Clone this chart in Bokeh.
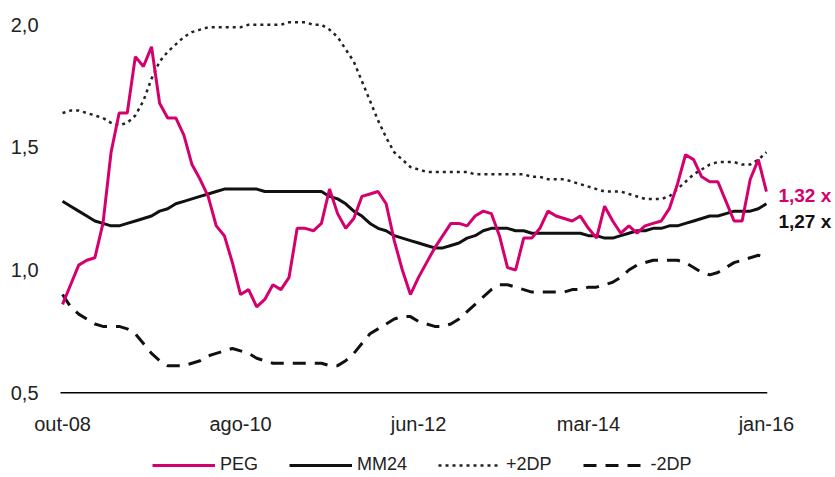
from bokeh.plotting import figure
from bokeh.models import ColumnDataSource, Range1d, Legend, LegendItem, Label
from bokeh.core.properties import value
from bokeh.embed import file_html
from bokeh.resources import INLINE

# ---------------- data (monthly, out-08 .. jan-16) ----------------
PEG = [0.86, 0.94, 1.02, 1.04, 1.05, 1.19, 1.48, 1.64, 1.64, 1.87,
       1.83, 1.91, 1.68, 1.62, 1.62, 1.55, 1.43, 1.37, 1.30, 1.18,
       1.14, 1.03, 0.90, 0.92, 0.85, 0.88, 0.94, 0.92, 0.97, 1.17,
       1.17, 1.16, 1.19, 1.33, 1.23, 1.17, 1.21, 1.30, 1.31, 1.32,
       1.27, 1.12, 1.00, 0.90, 0.97, 1.03, 1.09, 1.14, 1.19, 1.19,
       1.18, 1.22, 1.24, 1.23, 1.14, 1.01, 1.00, 1.13, 1.13, 1.17,
       1.24, 1.22, 1.21, 1.20, 1.22, 1.17, 1.13, 1.26, 1.20, 1.15,
       1.18, 1.15, 1.18, 1.19, 1.20, 1.25, 1.35, 1.47, 1.45, 1.38,
       1.36, 1.36, 1.28, 1.20, 1.20, 1.37, 1.45, 1.32]

MM24 = [1.28, 1.26, 1.24, 1.22, 1.20, 1.19, 1.18, 1.18, 1.19, 1.20,
        1.21, 1.22, 1.24, 1.25, 1.27, 1.28, 1.29, 1.30, 1.31, 1.32,
        1.33, 1.33, 1.33, 1.33, 1.33, 1.32, 1.32, 1.32, 1.32, 1.32,
        1.32, 1.32, 1.32, 1.30, 1.29, 1.27, 1.24, 1.22, 1.19, 1.17,
        1.16, 1.14, 1.13, 1.12, 1.11, 1.10, 1.09, 1.09, 1.10, 1.11,
        1.13, 1.14, 1.16, 1.17, 1.17, 1.17, 1.16, 1.16, 1.15, 1.15,
        1.15, 1.15, 1.15, 1.15, 1.15, 1.14, 1.14, 1.13, 1.13, 1.14,
        1.15, 1.16, 1.16, 1.17, 1.17, 1.18, 1.18, 1.19, 1.20, 1.21,
        1.22, 1.22, 1.23, 1.24, 1.24, 1.24, 1.25, 1.27]

UP2DP = [1.64, 1.65, 1.65, 1.64, 1.63, 1.62, 1.60, 1.59, 1.60, 1.63,
         1.69, 1.78, 1.85, 1.89, 1.92, 1.95, 1.97, 1.98, 1.99, 1.99,
         1.99, 1.99, 1.99, 2.00, 2.00, 2.00, 2.00, 2.00, 2.01, 2.01,
         2.01, 2.00, 2.00, 1.98, 1.95, 1.90, 1.85, 1.77, 1.69, 1.61,
         1.54, 1.48, 1.45, 1.42, 1.41, 1.40, 1.40, 1.40, 1.40, 1.40,
         1.40, 1.39, 1.39, 1.39, 1.39, 1.39, 1.39, 1.39, 1.38, 1.38,
         1.37, 1.37, 1.37, 1.36, 1.35, 1.34, 1.33, 1.32, 1.32, 1.32,
         1.31, 1.30, 1.29, 1.29, 1.29, 1.30, 1.33, 1.36, 1.39, 1.41,
         1.43, 1.44, 1.44, 1.44, 1.43, 1.43, 1.45, 1.48]

DN2DP = [0.90, 0.85, 0.82, 0.80, 0.78, 0.77, 0.77, 0.77, 0.76, 0.74,
         0.70, 0.66, 0.63, 0.61, 0.61, 0.61, 0.62, 0.63, 0.65, 0.66,
         0.67, 0.68, 0.67, 0.66, 0.64, 0.63, 0.62, 0.62, 0.62, 0.62,
         0.62, 0.62, 0.62, 0.61, 0.61, 0.63, 0.66, 0.70, 0.74, 0.76,
         0.78, 0.80, 0.81, 0.81, 0.79, 0.78, 0.77, 0.77, 0.78, 0.80,
         0.83, 0.86, 0.89, 0.92, 0.94, 0.94, 0.93, 0.92, 0.91, 0.91,
         0.91, 0.91, 0.91, 0.92, 0.92, 0.93, 0.93, 0.94, 0.95, 0.97,
         1.00, 1.02, 1.03, 1.04, 1.04, 1.04, 1.04, 1.03, 1.01, 0.99,
         0.98, 0.99, 1.01, 1.03, 1.04, 1.05, 1.06, 1.05]

MONTH = list(range(len(PEG)))          # 0 = out-08 ... 87 = jan-16
TICK_MONTHS = [0, 22, 44, 65, 87]
TICK_LABELS = ["out-08", "ago-10", "jun-12", "mar-14", "jan-16"]
Y_TICKS = [0.5, 1.0, 1.5, 2.0]
Y_LABELS = ["0,5", "1,0", "1,5", "2,0"]
SERIES_NAMES = ["PEG", "MM24", "+2DP", "-2DP"]

MAGENTA = "#D4006E"
INK = "#111111"
FONT = "Liberation Sans"

src = ColumnDataSource(dict(m=MONTH, peg=PEG, mm=MM24, up=UP2DP, dn=DN2DP))
xtick_src = ColumnDataSource(dict(m=TICK_MONTHS, y=[Y_TICKS[0]] * len(TICK_MONTHS), t=TICK_LABELS))
ytick_src = ColumnDataSource(dict(m=[MONTH[0]] * len(Y_TICKS), y=Y_TICKS, t=Y_LABELS))

# the frame fills the whole canvas so that every text (axis labels, end labels,
# legend) is drawn inside it and nothing is clipped
p = figure(width=833, height=476,
           min_border_left=0, min_border_right=0, min_border_top=12, min_border_bottom=0,
           x_range=Range1d(-7.666, 95.29), y_range=Range1d(0.158, 2.05),
           output_backend="svg", toolbar_location=None)
p.outline_line_color = None
p.xgrid.visible = False
p.ygrid.visible = False
p.xaxis.visible = False
p.yaxis.visible = False
p.background_fill_color = "white"
p.border_fill_color = "white"

# baseline (x axis line) spanning the data
p.line([MONTH[0] - 0.25, MONTH[-1] + 0.1], [Y_TICKS[0], Y_TICKS[0]], line_color="black", line_width=1.5)

r_up = p.line("m", "up", source=src, line_color="#222222", line_width=2.5, line_dash="3 4")
r_dn = p.line("m", "dn", source=src, line_color=INK, line_width=3, line_dash="13 9")
r_mm = p.line("m", "mm", source=src, line_color=INK, line_width=3)
r_peg = p.line("m", "peg", source=src, line_color=MAGENTA, line_width=3)

# month labels under the baseline
p.text(x="m", y="y", text="t", source=xtick_src, y_offset=31,
       text_align="center", text_baseline="middle",
       text_font=value(FONT), text_font_size="20px", text_color="#222222")

# value labels on the left
p.text(x="m", y="y", text="t", source=ytick_src, x_offset=-24,
       text_align="right", text_baseline="middle",
       text_font=value(FONT), text_font_size="20px", text_color="#222222")

# end-of-series labels
def fmt(v):
    return f"{v:.2f}".replace(".", ",") + " x"

p.add_layout(Label(x=MONTH[-1], y=PEG[-1], text=fmt(PEG[-1]), x_offset=12, y_offset=-4,
                   text_baseline="middle", text_font=FONT, text_font_style="bold",
                   text_font_size="19px", text_color=MAGENTA))
p.add_layout(Label(x=MONTH[-1], y=MM24[-1], text=fmt(MM24[-1]), x_offset=12, y_offset=-18,
                   text_baseline="middle", text_font=FONT, text_font_style="bold",
                   text_font_size="19px", text_color=INK))

legend = Legend(items=[LegendItem(label=n, renderers=[r]) for n, r in
                       zip(SERIES_NAMES, [r_peg, r_mm, r_up, r_dn])],
                orientation="horizontal", location=(152, 1),
                border_line_color=None, background_fill_alpha=0,
                padding=0, margin=0, spacing=31,
                glyph_width=63, glyph_height=18, label_height=18, label_standoff=5,
                label_text_font=FONT, label_text_font_size="18px", label_text_color="#222222")
p.add_layout(legend)

open("out.html", "w").write(file_html(p, INLINE))
